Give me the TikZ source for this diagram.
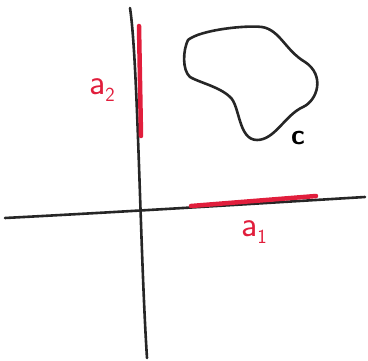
\documentclass[tikz,border=0pt]{standalone}
\usepackage{amsmath,amssymb}
\usetikzlibrary{positioning}

\definecolor{marker}{RGB}{225,30,60}

\begin{document}
\begin{tikzpicture}[x=1pt,y=-1pt,line cap=round,line join=round,
  axis/.style={draw=black!85,line width=2.6pt},
  seg/.style={draw=marker,line width=4.5pt},
  lab/.style={text=marker,font=\fontsize{36}{36}\selectfont\sffamily}]
\useasboundingbox (0,0) rectangle (368,361);
% axes
\coordinate (xl) at (5,218);
\coordinate (xr) at (365,197);
\coordinate (yt) at (130,8);
\coordinate (yb) at (147,358);
\draw[axis] (xl) .. controls (120,212) and (250,204) .. (xr);
\draw[axis] (yt) .. controls (138,60) and (140,250) .. (yb);
% projections
\coordinate (a1s) at (191,206);
\coordinate (a1e) at (316,196);
\coordinate (a2s) at (139,26);
\coordinate (a2e) at (141,136);
\draw[seg] (a1s) -- (a1e);
\draw[seg] (a2s) -- (a2e);
% the set C
\draw[axis] (188,40) .. controls (200,30) and (245,25) .. (262,27)
  .. controls (280,30) and (285,50) .. (305,62)
  .. controls (325,75) and (318,100) .. (303,107)
  .. controls (285,115) and (275,140) .. (257,140)
  .. controls (238,140) and (240,105) .. (230,97)
  .. controls (220,87) and (198,82) .. (190,77)
  .. controls (182,70) and (183,50) .. cycle;
\node (c) at (298,138) {\fontsize{28}{28}\selectfont\sffamily\bfseries c};
\node[lab] (a2) at (102,90) {a\raisebox{-0.5ex}{\fontsize{20}{20}\selectfont 2}};
\node[lab] (a1) at (254,232) {a\raisebox{-0.5ex}{\fontsize{20}{20}\selectfont 1}};
\end{tikzpicture}
\end{document}
